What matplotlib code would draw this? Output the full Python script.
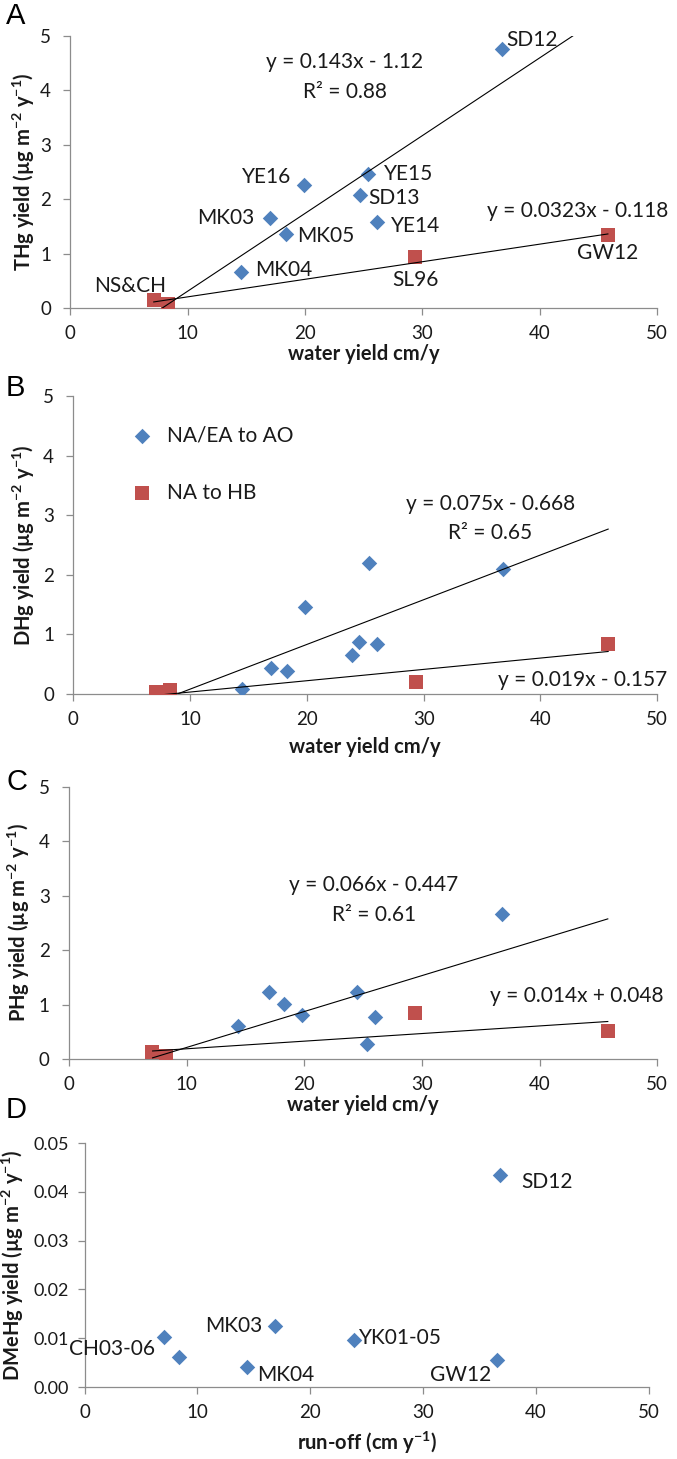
import matplotlib
matplotlib.use("Agg")
import matplotlib.pyplot as plt
import numpy as np

plt.rcParams.update({
    "font.family": ["Lato", "DejaVu Sans"],
    "mathtext.fontset": "custom",
    "mathtext.rm": "Lato",
    "mathtext.bf": "Lato:bold",
    "axes.unicode_minus": False,
})

# ---------------- data ----------------
# panel A: THg yield vs water yield
a_blue_x = [14.5, 17.0, 18.4, 19.9, 24.65, 25.4, 26.1, 36.8]
a_blue_y = [0.67, 1.65, 1.36, 2.26, 2.08, 2.47, 1.59, 4.77]
a_blue_lab = ["MK04", "MK03", "MK05", "YE16", "SD13", "YE15", "YE14", "SD12"]
a_red_x = [7.1, 8.3, 29.4, 45.8]
a_red_y = [0.14, 0.08, 0.93, 1.34]
a_red_lab = ["NS&CH", "", "SL96", "GW12"]
a_fit_blue = (0.143, -1.12)
a_fit_red = (0.0323, -0.118)

# panel B: DHg yield
b_blue_x = [14.4, 16.9, 18.3, 19.8, 23.85, 24.5, 25.3, 26.0, 36.8]
b_blue_y = [0.08, 0.44, 0.38, 1.46, 0.65, 0.88, 2.20, 0.84, 2.10]
b_red_x = [7.1, 8.25, 29.3, 45.8]
b_red_y = [0.03, 0.06, 0.20, 0.84]
b_fit_blue = (0.075, -0.668)
b_fit_red = (0.019, -0.157)

# panel C: PHg yield
c_blue_x = [14.4, 17.0, 18.3, 19.8, 24.5, 25.3, 26.0, 36.8]
c_blue_y = [0.61, 1.23, 1.01, 0.81, 1.23, 0.28, 0.77, 2.66]
c_red_x = [7.05, 8.26, 29.4, 45.8]
c_red_y = [0.13, 0.06, 0.84, 0.52]
c_fit_blue = (0.066, -0.447)
c_fit_red = (0.014, 0.048)

fit_range = (7.1, 45.8)

# panel D: DMeHg yield vs run-off
d_x = [7.04, 8.38, 14.4, 16.9, 23.9, 36.6, 36.8]
d_y = [0.0103, 0.0062, 0.0041, 0.0124, 0.0096, 0.0055, 0.0434]
d_lab = ["CH03-06", "", "MK04", "MK03", "YK01-05", "GW12", "SD12"]

# ---------------- style ----------------
col_blue = "#4F81BD"
col_red = "#C0504D"
col_axis = "#8C8C8C"
col_text = "#1A1A1A"
W, H = 677, 1459
fs_tick = 13.5
fs_ann = 15
fs_lab = 14.5
s_dia = 62
s_sq = 100

# label offsets in pixels (dx, dy, ha)
a_blue_off = [(15, 2, "left"), (-16, 0, "right"), (11, -2, "left"), (-13, 8, "right"),
              (9, -3, "left"), (15, 0, "left"), (14, -4, "left"), (4, 9, "left")]
a_red_off = [(-24, 14, "center"), (0, 0, "center"), (0, -23, "center"), (0, -18, "center")]
d_off = [(-9, -12, "right"), (0, 0, "left"), (10, -8, "left"), (-13, 0, "right"),
         (5, 2, "left"), (-6, -15, "right"), (22, -7, "left")]

fig = plt.figure(figsize=(W / 100, H / 100), dpi=100)


def px_rect(x0, x1, ytop, ybot):
    return [x0 / W, 1 - ybot / H, (x1 - x0) / W, (ybot - ytop) / H]


def style_axes(ax, xlabel, ylabel, xl_y, yl_x):
    for s in ["top", "right"]:
        ax.spines[s].set_visible(False)
    for s in ["left", "bottom"]:
        ax.spines[s].set_color(col_axis)
        ax.spines[s].set_linewidth(0.9)
    ax.tick_params(direction="out", length=5, width=0.9, color=col_axis,
                   labelsize=fs_tick, labelcolor=col_text)
    ax.tick_params(axis="x", pad=7)
    ax.tick_params(axis="y", pad=9)
    ax.set_xlim(0, 50)
    ax.set_xticks([0, 10, 20, 30, 40, 50])
    ax.set_xlabel(xlabel, fontsize=fs_lab, fontweight="bold", color=col_text)
    ax.set_ylabel(ylabel, fontsize=fs_lab, fontweight="bold", color=col_text)
    ax.xaxis.set_label_coords(0.5, xl_y)
    ax.xaxis.label.set_va("center")
    ax.yaxis.set_label_coords(yl_x, 0.5)
    ax.yaxis.label.set_va("center")


def draw_fit(ax, fit):
    m, b = fit
    xs = np.array(fit_range)
    ax.plot(xs, m * xs + b, color="black", linewidth=0.8, zorder=4)


def unit(name):
    return name + r" yield (µg m$^{\mathbf{-2}}$ y$^{\mathbf{-1}}$)"


# ---------------- A ----------------
axA = fig.add_axes(px_rect(70.4, 657.2, 36, 308))
axA.scatter(a_blue_x, a_blue_y, marker="D", s=s_dia, color=col_blue, zorder=3, linewidths=0)
axA.scatter(a_red_x, a_red_y, marker="s", s=s_sq, color=col_red, zorder=3, linewidths=0)
draw_fit(axA, a_fit_blue)
draw_fit(axA, a_fit_red)
for x, y, t, (dx, dy, ha) in zip(a_blue_x, a_blue_y, a_blue_lab, a_blue_off):
    axA.annotate(t, (x, y), xytext=(dx, dy), textcoords="offset pixels",
                 ha=ha, va="center", fontsize=fs_ann, color=col_text)
for x, y, t, (dx, dy, ha) in zip(a_red_x, a_red_y, a_red_lab, a_red_off):
    if t:
        axA.annotate(t, (x, y), xytext=(dx, dy), textcoords="offset pixels",
                     ha=ha, va="center", fontsize=fs_ann, color=col_text)
axA.text(23.4, 4.52, "y = 0.143x - 1.12", ha="center", va="center", fontsize=fs_ann, color=col_text)
axA.text(23.4, 3.97, "R² = 0.88", ha="center", va="center", fontsize=fs_ann, color=col_text)
axA.text(43.25, 1.78, "y = 0.0323x - 0.118", ha="center", va="center", fontsize=fs_ann, color=col_text)
axA.set_ylim(0, 5)
axA.set_yticks(range(6))
style_axes(axA, "water yield cm/y", unit("THg"), -0.168, -0.079)

# ---------------- B ----------------
axB = fig.add_axes(px_rect(73.4, 657.2, 396, 694))
hb = axB.scatter(b_blue_x, b_blue_y, marker="D", s=s_dia, color=col_blue, zorder=3,
                 linewidths=0, label="NA/EA to AO")
hr = axB.scatter(b_red_x, b_red_y, marker="s", s=s_sq, color=col_red, zorder=3,
                 linewidths=0, label="NA to HB")
draw_fit(axB, b_fit_blue)
draw_fit(axB, b_fit_red)
axB.text(35.7, 3.19, "y = 0.075x - 0.668", ha="center", va="center", fontsize=fs_ann, color=col_text)
axB.text(35.7, 2.70, "R² = 0.65", ha="center", va="center", fontsize=fs_ann, color=col_text)
axB.text(43.6, 0.235, "y = 0.019x - 0.157", ha="center", va="center", fontsize=fs_ann, color=col_text)
axB.set_ylim(0, 5)
axB.set_yticks(range(6))
leg = axB.legend(handles=[hb, hr], loc="center left", bbox_to_anchor=(0.100, 0.772),
                 frameon=False, fontsize=fs_ann, labelspacing=1.8, handlelength=1.0,
                 handletextpad=0.7, borderpad=0, borderaxespad=0)
for t in leg.get_texts():
    t.set_color(col_text)
style_axes(axB, "water yield cm/y", unit("DHg"), -0.178, -0.085)

# ---------------- C ----------------
axC = fig.add_axes(px_rect(69.1, 657.2, 787, 1059))
axC.scatter(c_blue_x, c_blue_y, marker="D", s=s_dia, color=col_blue, zorder=3, linewidths=0)
axC.scatter(c_red_x, c_red_y, marker="s", s=s_sq, color=col_red, zorder=3, linewidths=0)
draw_fit(axC, c_fit_blue)
draw_fit(axC, c_fit_red)
axC.text(25.9, 3.20, "y = 0.066x - 0.447", ha="center", va="center", fontsize=fs_ann, color=col_text)
axC.text(25.9, 2.65, "R² = 0.61", ha="center", va="center", fontsize=fs_ann, color=col_text)
axC.text(43.2, 1.16, "y = 0.014x + 0.048", ha="center", va="center", fontsize=fs_ann, color=col_text)
axC.set_ylim(0, 5)
axC.set_yticks(range(6))
style_axes(axC, "water yield cm/y", unit("PHg"), -0.169, -0.085)

# ---------------- D ----------------
axD = fig.add_axes(px_rect(84.6, 648.5, 1143, 1387))
axD.scatter(d_x, d_y, marker="D", s=s_dia, color=col_blue, zorder=3, linewidths=0)
for x, y, t, (dx, dy, ha) in zip(d_x, d_y, d_lab, d_off):
    if t:
        axD.annotate(t, (x, y), xytext=(dx, dy), textcoords="offset pixels",
                     ha=ha, va="center", fontsize=fs_ann, color=col_text)
axD.set_ylim(0, 0.05)
axD.set_yticks([0, 0.01, 0.02, 0.03, 0.04, 0.05])
axD.yaxis.set_major_formatter(matplotlib.ticker.FormatStrFormatter("%.2f"))
axD.tick_params(axis="y", labelsize=13)
style_axes(axD, r"run-off (cm y$^{\mathbf{-1}}$)", unit("DMeHg"), -0.23, -0.128)
axD.tick_params(axis="y", labelsize=13, pad=6)

# panel letters
for letter, ytop in [("A", 2), ("B", 374), ("C", 768), ("D", 1096)]:
    fig.text(6 / W, 1 - ytop / H, letter, fontsize=21, va="top", ha="left",
             family="Liberation Sans", color="black")

fig.savefig("out.png", dpi=100)
